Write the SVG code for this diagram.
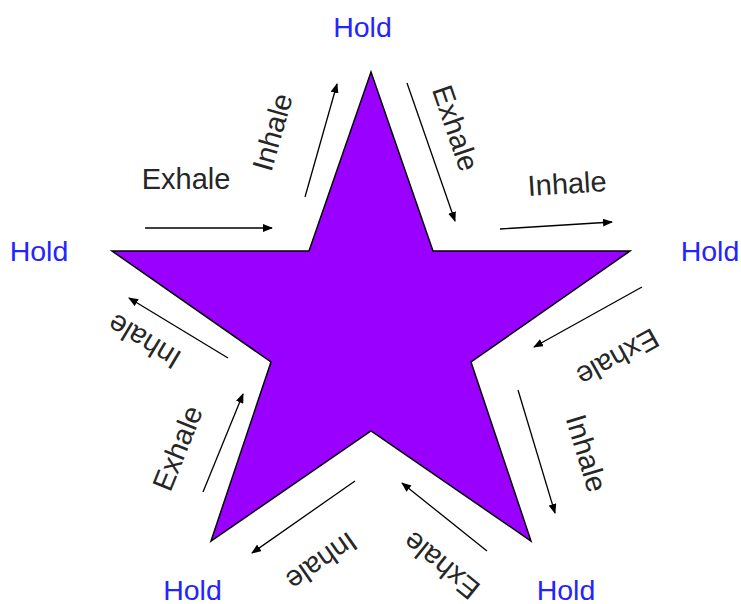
<svg xmlns="http://www.w3.org/2000/svg" width="741" height="604" viewBox="0 0 741 604">
<defs>
<marker id="ah" markerWidth="10" markerHeight="8" refX="9" refY="4" orient="auto" markerUnits="userSpaceOnUse">
<path d="M0,0 L10,4 L0,8 Z" fill="#000"/>
</marker>
<style>
.lbl{font-family:"Liberation Sans",Arial,sans-serif;font-size:29px;fill:#262626;text-anchor:middle}
.hold{font-family:"Liberation Sans",Arial,sans-serif;font-size:28.5px;fill:#2424ff;text-anchor:middle}
.arr{stroke:#000;stroke-width:1.3;fill:none;marker-end:url(#ah)}
</style>
</defs>
<rect width="741" height="604" fill="#fff"/>
<g id="star">
<polygon points="371,72 433,251 630,251 471,362 531,541 371,431 211,541 271,362 112,251 309,251" fill="#9900ff" stroke="#000" stroke-width="1.5" stroke-linejoin="miter"/>
</g>
<g id="holds">
<text class="hold" x="362.5" y="36.5">Hold</text>
<text class="hold" x="39" y="260.5">Hold</text>
<text class="hold" x="710" y="260.5">Hold</text>
<text class="hold" x="192.5" y="600">Hold</text>
<text class="hold" x="566" y="600">Hold</text>
</g>
<g id="labels">
<text class="lbl" x="186" y="189">Exhale</text>
<text class="lbl" transform="translate(272,132) rotate(-74)" y="10.5">Inhale</text>
<text class="lbl" transform="translate(456,128) rotate(71)" y="10.5">Exhale</text>
<text class="lbl" transform="translate(567,183) rotate(-3.6)" y="10.5">Inhale</text>
<text class="lbl" transform="translate(618,358) rotate(151)" y="10.5">Exhale</text>
<text class="lbl" transform="translate(587,453) rotate(73)" y="10.5">Inhale</text>
<text class="lbl" transform="translate(441,566) rotate(219)" y="10.5">Exhale</text>
<text class="lbl" transform="translate(322,562) rotate(145)" y="10.5">Inhale</text>
<text class="lbl" transform="translate(177,448) rotate(-68)" y="10.5">Exhale</text>
<text class="lbl" transform="translate(144,342) rotate(211)" y="10.5">Inhale</text>
</g>
<g id="connectors">
<line class="arr" x1="145" y1="228" x2="272" y2="228"/>
<line class="arr" x1="305" y1="197" x2="337" y2="84"/>
<line class="arr" x1="407" y1="83" x2="455" y2="221"/>
<line class="arr" x1="500" y1="229" x2="612" y2="222"/>
<line class="arr" x1="642" y1="287" x2="534" y2="347"/>
<line class="arr" x1="518" y1="390" x2="555" y2="513"/>
<line class="arr" x1="487" y1="551" x2="402" y2="483"/>
<line class="arr" x1="355" y1="481" x2="252" y2="553"/>
<line class="arr" x1="203" y1="492" x2="243" y2="394"/>
<line class="arr" x1="228" y1="358" x2="129" y2="298"/>
</g>
</svg>
